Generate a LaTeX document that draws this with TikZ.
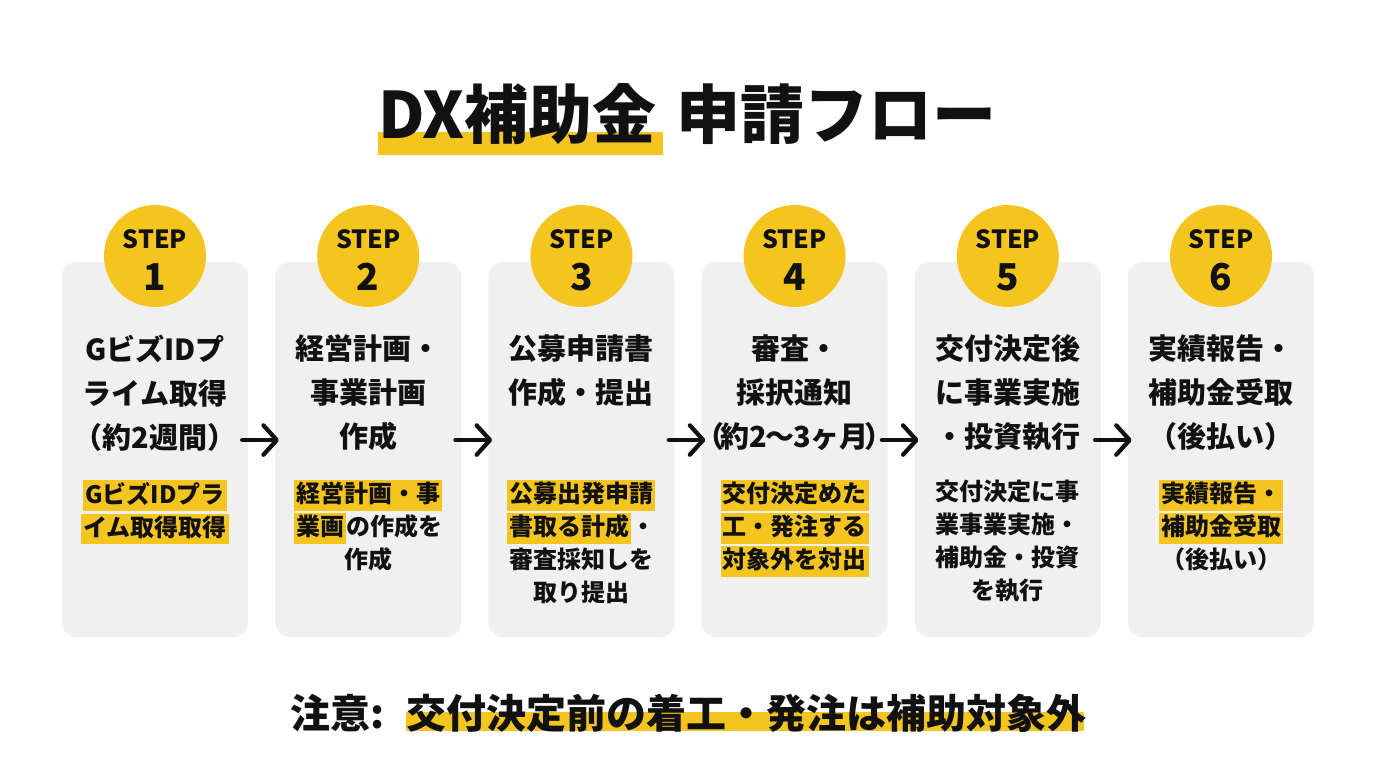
\documentclass[tikz,border=0pt]{standalone}
\usepackage{fontspec}
\setmainfont{Noto Sans CJK JP}
\usetikzlibrary{arrows.meta}
\definecolor{yel}{HTML}{F5C51F}
\definecolor{cardgray}{HTML}{F0F0F0}
\definecolor{ink}{HTML}{111111}
\newcommand{\hlb}[1]{{\setlength{\fboxsep}{1.5pt}\colorbox{yel}{\rule[-4.5pt]{0pt}{19.5pt}#1}}}
\begin{document}
\begin{tikzpicture}[x=0.75pt,y=-0.75pt,
  cardbox/.style={rectangle, rounded corners=11pt, fill=cardgray, minimum width=139.5pt, minimum height=281.25pt, inner sep=0pt},
  badge/.style={circle, fill=yel, minimum size=76.5pt, inner sep=0pt},
  steplbl/.style={anchor=base, inner sep=0pt, text=ink, font=\bfseries\fontsize{18.75}{20}\selectfont},
  stepnum/.style={anchor=base, inner sep=0pt, text=ink, font=\bfseries\fontsize{27.75}{30}\selectfont},
  maintxt/.style={anchor=north, inner sep=0pt, align=center, text=ink, font=\bfseries\fontsize{21.75}{33}\selectfont, execute at begin node={\rule{0pt}{19pt}}},
  subtxt/.style={anchor=north, inner sep=0pt, align=center, text=ink, font=\bfseries\fontsize{18}{24.75}\selectfont, execute at begin node={\rule{0pt}{16.5pt}}},
  titletxt/.style={anchor=base west, inner sep=0pt, text=ink, font=\bfseries\fontsize{48}{52}\selectfont},
  notetxt/.style={anchor=base west, inner sep=0pt, text=ink, font=\bfseries\fontsize{30}{34}\selectfont},
  arr/.style={draw=ink, line width=3.2pt, line cap=round, line join=round, -{Straight Barb[length=10pt,width=22pt,round]}}
]
\useasboundingbox (0,0) rectangle (1376,768);
\fill[white] (0,0) rectangle (1376,768);

% title
\fill[yel] (378,132) rectangle (663,155);
\node[titletxt] (t1) at (378,138) {DX補助金};
\node[titletxt] (t2) at (676,138) {申請フロー};

% cards
\node[cardbox] (c1) at (155,449.5) {};
\node[cardbox] (c2) at (368.2,449.5) {};
\node[cardbox] (c3) at (581.4,449.5) {};
\node[cardbox] (c4) at (794.6,449.5) {};
\node[cardbox] (c5) at (1007.8,449.5) {};
\node[cardbox] (c6) at (1221,449.5) {};

% badges
\node[badge] (b1) at (155,256) {};
\node[badge] (b2) at (368.2,256) {};
\node[badge] (b3) at (581.4,256) {};
\node[badge] (b4) at (794.6,256) {};
\node[badge] (b5) at (1007.8,256) {};
\node[badge] (b6) at (1221,256) {};
\node[steplbl] (s1) at (155,248) {STEP};
\node[steplbl] (s2) at (368.2,248) {STEP};
\node[steplbl] (s3) at (581.4,248) {STEP};
\node[steplbl] (s4) at (794.6,248) {STEP};
\node[steplbl] (s5) at (1007.8,248) {STEP};
\node[steplbl] (s6) at (1221,248) {STEP};
\node[stepnum] (n1) at (155,290) {1};
\node[stepnum] (n2) at (368.2,290) {2};
\node[stepnum] (n3) at (581.4,290) {3};
\node[stepnum] (n4) at (794.6,290) {4};
\node[stepnum] (n5) at (1007.8,290) {5};
\node[stepnum] (n6) at (1221,290) {6};

% main texts
\node[maintxt] (m1) at (155,334.7) {GビズIDプ\\ライム取得\\（約2週間）};
\node[maintxt] (m2) at (368.2,334.7) {経営計画・\\事業計画\\作成};
\node[maintxt] (m3) at (581.4,334.7) {公募申請書\\作成・提出};
\node[maintxt] (m4) at (794.6,334.7) {審査・\\採択通知\\（\kern-3pt 約2\kern-1pt〜\kern-1pt3ヶ月\kern-3pt）};
\node[maintxt] (m5) at (1007.8,334.7) {交付決定後\\に事業実施\\・投資執行};
\node[maintxt] (m6) at (1221,334.7) {実績報告・\\補助金受取\\（後払い）};

% sub texts
\node[subtxt] (d1) at (155,480) {\hlb{GビズIDプラ}\\\hlb{イム取得取得}};
\node[subtxt] (d2) at (368.2,480) {\hlb{経営計画・事}\\\hlb{業画}の作成を\\作成};
\node[subtxt] (d3) at (581.4,480) {\hlb{公募出発申請}\\\hlb{書取る計成}・\\審査採知しを\\取り提出};
\node[subtxt] (d4) at (794.6,480) {\hlb{交付決定めた}\\\hlb{工・発注する}\\\hlb{対象外を対出}};
\node[subtxt] (d5) at (1007.8,480) {交付決定に事\\業事業実施・\\補助金・投資\\を執行};
\node[subtxt] (d6) at (1221,480) {\hlb{実績報告・}\\\hlb{補助金受取}\\（後払い）};

% arrows
\draw[arr] ([xshift=-4.5pt,yshift=7.1pt]c1.east) -- ([xshift=3pt,yshift=7.1pt]c2.west);
\draw[arr] ([xshift=-4.5pt,yshift=7.1pt]c2.east) -- ([xshift=3pt,yshift=7.1pt]c3.west);
\draw[arr] ([xshift=-4.5pt,yshift=7.1pt]c3.east) -- ([xshift=3pt,yshift=7.1pt]c4.west);
\draw[arr] ([xshift=-4.5pt,yshift=7.1pt]c4.east) -- ([xshift=3pt,yshift=7.1pt]c5.west);
\draw[arr] ([xshift=-4.5pt,yshift=7.1pt]c5.east) -- ([xshift=3pt,yshift=7.1pt]c6.west);

% note
\fill[yel] (406,712) rectangle (1084,731);
\node[notetxt] (w1) at (290,728) {注意:};
\node[notetxt] (w2) at (406,728) {交付決定前の着工・発注は補助対象外};
\end{tikzpicture}
\end{document}
